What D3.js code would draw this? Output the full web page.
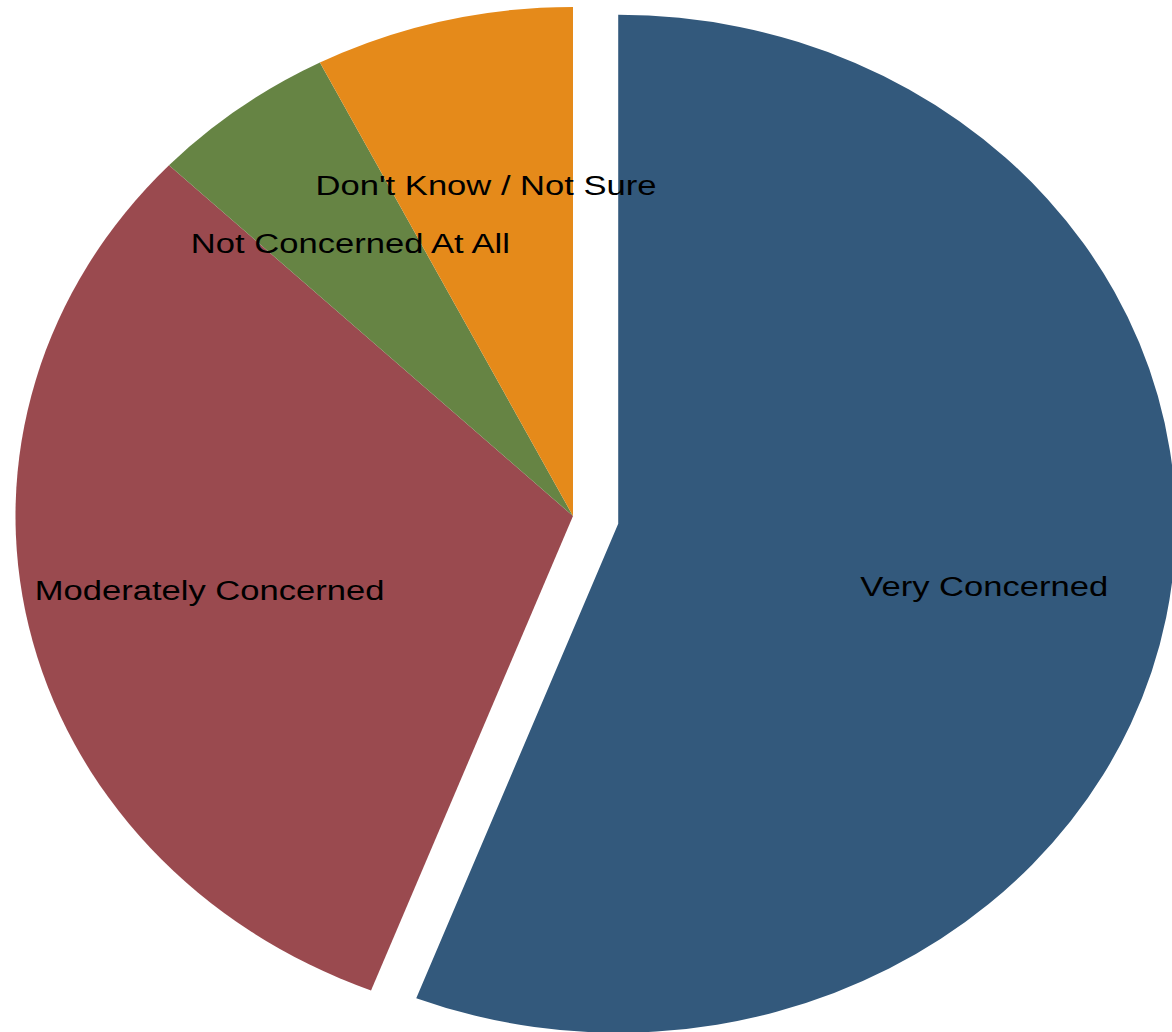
<!DOCTYPE html>
<html>
<head>
<meta charset="utf-8">
<script src="https://cdn.jsdelivr.net/npm/d3@7"></script>
<style>
  html, body { margin: 0; padding: 0; background: #ffffff; }
  svg { display: block; }
</style>
</head>
<body>
<svg id="chart" width="1172" height="1032"></svg>
<script>
// Survey responses (percent of respondents)
const categories = ["Very Concerned", "Moderately Concerned", "Not Concerned At All", "Don't Know / Not Sure"];
const values = [55.9, 31.2, 5.4, 7.5];
const colors = ["#33597C", "#9A4A4F", "#668444", "#E58A1A"];
const exploded = [true, false, false, false];

const width = 1172, height = 1032;
const cx = 573, cy = 516;          // pie centre
const R = 509;                     // vertical radius
const xStretch = 557.5 / 509;      // pie is drawn slightly wider than tall
const explodeDist = 42;            // pull-out distance for highlighted slice
const labelFrac = 0.668;           // label distance as a fraction of radius
const fontSize = 28;
const textStretch = 1.235;

const svg = d3.select("#chart");

const pie = d3.pie().sort(null).value(d => d.value);
const data = pie(categories.map((c, i) => ({ name: c, value: values[i], color: colors[i], explode: exploded[i] })));

const arc = d3.arc().innerRadius(0).outerRadius(R);

function offsetFor(d) {
  if (!d.data.explode) return [0, 0];
  const mid = (d.startAngle + d.endAngle) / 2;
  return [Math.sin(mid) * explodeDist, -Math.cos(mid) * explodeDist];
}

const pieG = svg.append("g")
  .attr("transform", `translate(${cx},${cy}) scale(${xStretch},1)`);

pieG.selectAll("path")
  .data(data)
  .join("path")
  .attr("d", arc)
  .attr("fill", d => d.data.color)
  .attr("transform", d => {
    const [ox, oy] = offsetFor(d);
    return `translate(${ox},${oy})`;
  });

const labelG = svg.append("g");
labelG.selectAll("text")
  .data(data)
  .join("text")
  .attr("transform", d => {
    const mid = (d.startAngle + d.endAngle) / 2;
    const [ox, oy] = offsetFor(d);
    const x = cx + (Math.sin(mid) * R * labelFrac + ox) * xStretch;
    const y = cy + (-Math.cos(mid) * R * labelFrac + oy);
    return `translate(${x},${y}) scale(${textStretch},1)`;
  })
  .attr("text-anchor", "middle")
  .attr("dy", "0.35em")
  .attr("font-family", "'Liberation Sans', Arial, sans-serif")
  .attr("font-size", fontSize)
  .attr("fill", "#000")
  .text(d => d.data.name);
</script>
</body>
</html>
